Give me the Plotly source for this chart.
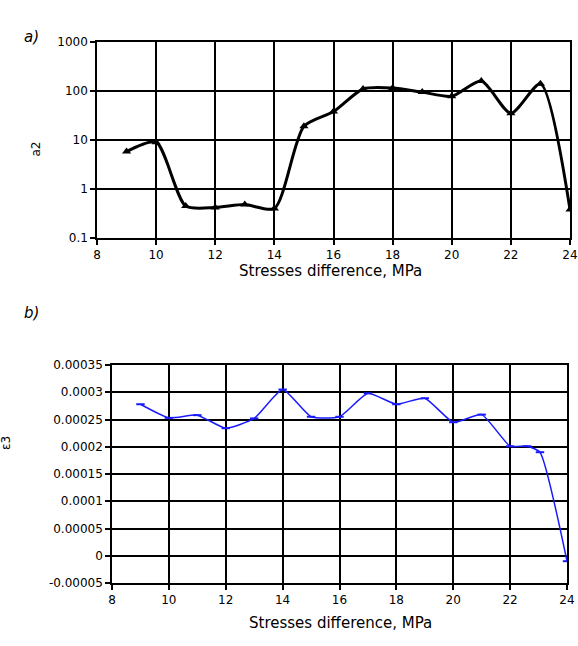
import plotly.graph_objects as go

x_a = [9, 10, 11, 12, 13, 14, 15, 16, 17, 18, 19, 20, 21, 22, 23, 24]
a2 = [5.8, 9.0, 0.45, 0.42, 0.48, 0.40, 19, 38, 110, 115, 95, 78, 160, 35, 140, 0.38]

x_b = [9, 10, 11, 12, 13, 14, 15, 16, 17, 18, 19, 20, 21, 22, 22.6, 23.05, 24]
eps = [0.000278, 0.000253, 0.000258, 0.000234, 0.000252, 0.000305, 0.000255, 0.000255,
       0.000298, 0.000278, 0.000289, 0.000245, 0.000259, 0.000201, 0.000201, 0.00019, -0.00001]

x_ticks = [8, 10, 12, 14, 16, 18, 20, 22, 24]
a_ticks = [0.1, 1, 10, 100, 1000]
a_ticktext = ["0.1", "1", "10", "100", "1000"]
b_ticks = [-0.00005, 0, 0.00005, 0.0001, 0.00015, 0.0002, 0.00025, 0.0003, 0.00035]
b_ticktext = ["-0.00005", "0", "0.00005", "0.0001", "0.00015", "0.0002", "0.00025", "0.0003", "0.00035"]

W, H = 578, 646
FONT = "DejaVu Sans"

fig = go.Figure()
fig.add_trace(go.Scatter(
    x=x_a, y=a2, mode="lines+markers", xaxis="x", yaxis="y",
    line=dict(color="black", width=3, shape="spline", smoothing=0.7),
    marker=dict(symbol="triangle-up", size=8, color="black"),
    showlegend=False))
fig.add_trace(go.Scatter(
    x=x_b, y=eps, mode="lines+markers", xaxis="x2", yaxis="y2",
    line=dict(color="#1a1aff", width=1.5, shape="spline", smoothing=0.5),
    marker=dict(symbol="line-ew", size=6, line=dict(color="#1a1aff", width=2)),
    showlegend=False))

axis_common = dict(showline=True, linecolor="black", linewidth=1.5, mirror=True,
                   showgrid=True, gridcolor="black", gridwidth=1.5,
                   ticks="outside", ticklen=5, tickcolor="black", tickwidth=1.5,
                   tickfont=dict(family=FONT, size=12, color="black"),
                   zeroline=False, automargin=False)

fig.update_layout(
    width=W, height=H,
    margin=dict(l=0, r=0, t=0, b=0),
    paper_bgcolor="white", plot_bgcolor="white",
    xaxis=dict(domain=[97 / W, 570 / W], range=[8, 24], tickvals=x_ticks,
               anchor="y", **axis_common),
    yaxis=dict(domain=[1 - 238 / H, 1 - 42 / H], type="log", range=[-1, 3],
               tickvals=a_ticks, ticktext=a_ticktext, anchor="x", **axis_common),
    xaxis2=dict(domain=[112 / W, 567 / W], range=[8, 24], tickvals=x_ticks,
                anchor="y2", **axis_common),
    yaxis2=dict(domain=[1 - 583 / H, 1 - 365 / H], range=[-0.00005, 0.00035],
                tickvals=b_ticks, ticktext=b_ticktext, anchor="x2", **axis_common),
)

fig.add_annotation(x=330 / W, y=1 - 271 / H, xref="paper", yref="paper",
                   text="Stresses difference, MPa", showarrow=False,
                   font=dict(family=FONT, size=15, color="black"))
fig.add_annotation(x=340 / W, y=1 - 634 / H, xref="paper", yref="paper",
                   text="Stresses difference, MPa", showarrow=False,
                   font=dict(family=FONT, size=15, color="black"))
fig.add_annotation(x=26 / W, y=1 - 140 / H, xref="paper", yref="paper",
                   text="a2", textangle=-90, showarrow=False,
                   font=dict(family=FONT, size=12, color="black"))
fig.add_annotation(x=-3 / W, y=1 - 452 / H, xref="paper", yref="paper",
                   text="ε3", textangle=-90, showarrow=False,
                   font=dict(family=FONT, size=12, color="black"))
fig.add_annotation(x=22 / W, y=1 - 26 / H, xref="paper", yref="paper",
                   text="<i>a)</i>", showarrow=False,
                   font=dict(family=FONT, size=15, color="black"))
fig.add_annotation(x=22 / W, y=1 - 313 / H, xref="paper", yref="paper",
                   text="<i>b)</i>", showarrow=False,
                   font=dict(family=FONT, size=15, color="black"))

fig.write_html("out.html")
